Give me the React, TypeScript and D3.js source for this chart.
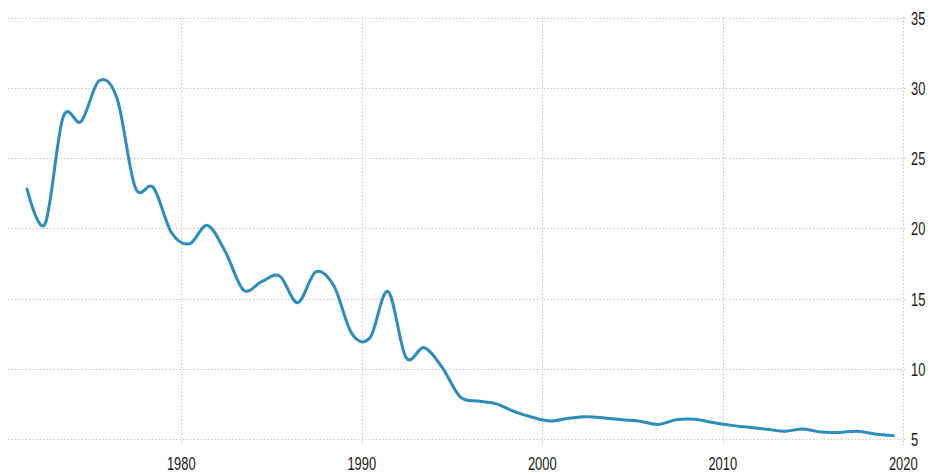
import React from "react";
import * as d3 from "d3";

const years = d3.range(1971, 2020);
const values = [
  22.8, 20.3, 27.9, 27.6, 30.5, 29.2, 22.9, 22.9, 19.7, 18.9,
  20.2, 18.3, 15.6, 16.2, 16.6, 14.7, 16.9, 15.9, 12.5, 12.2,
  15.5, 10.8, 11.5, 10.1, 8.0, 7.7, 7.5, 6.95, 6.55, 6.28,
  6.47, 6.59, 6.5, 6.37, 6.25, 6.04, 6.38, 6.4, 6.17, 5.97,
  5.83, 5.69, 5.55, 5.71, 5.49, 5.47, 5.55, 5.36, 5.24,
];
const yTicks = [5, 10, 15, 20, 25, 30, 35];
const xTicks = [1980, 1990, 2000, 2010, 2020];

const W = 932;
const H = 473;

export default function App() {
  const x = d3.scaleLinear().domain([1980, 2020]).range([181.3, 903.3]);
  const y = d3.scaleLinear().domain([5, 35]).range([439, 17.5]);

  const points = years.map((yr, i) => ({ yr: yr + 0.45, v: values[i] }));
  const line = d3
    .line<{ yr: number; v: number }>()
    .x(d => x(d.yr))
    .y(d => y(d.v))
    .curve(d3.curveCardinal.tension(0));

  const fontStyle = {
    fontFamily: "'Liberation Sans', Arial, sans-serif",
    fontSize: 19,
    fill: "#1a1a1a",
  };

  return (
    <svg
      width={W}
      height={H}
      style={{ position: "absolute", left: 0, top: 0, background: "#fff" }}
    >
      {/* horizontal grid */}
      <g stroke="#c8c8c8" strokeWidth={1} strokeDasharray="1.5,2">
        {yTicks.map(t => (
          <line key={t} x1={8} x2={906} y1={Math.round(y(t)) + 0.5} y2={Math.round(y(t)) + 0.5} />
        ))}
      </g>
      {/* vertical grid */}
      <g stroke="#c8c8c8" strokeWidth={1} strokeDasharray="1.5,2">
        {xTicks.map(t => (
          <line key={t} x1={Math.round(x(t)) + 0.5} x2={Math.round(x(t)) + 0.5} y1={17} y2={445} />
        ))}
      </g>
      <path
        d={line(points) || ""}
        fill="none"
        stroke="#2b8cbe"
        strokeWidth={3}
        strokeLinejoin="round"
        strokeLinecap="round"
      />
      {/* right axis labels */}
      {yTicks.map(t => (
        <text
          key={t}
          transform={`translate(911,${y(t) + 7}) scale(0.68,1)`}
          style={fontStyle}
        >
          {t}
        </text>
      ))}
      {/* bottom axis labels */}
      {xTicks.map(t => (
        <text
          key={t}
          transform={`translate(${x(t)},470) scale(0.68,1)`}
          textAnchor="middle"
          style={fontStyle}
        >
          {t}
        </text>
      ))}
    </svg>
  );
}
